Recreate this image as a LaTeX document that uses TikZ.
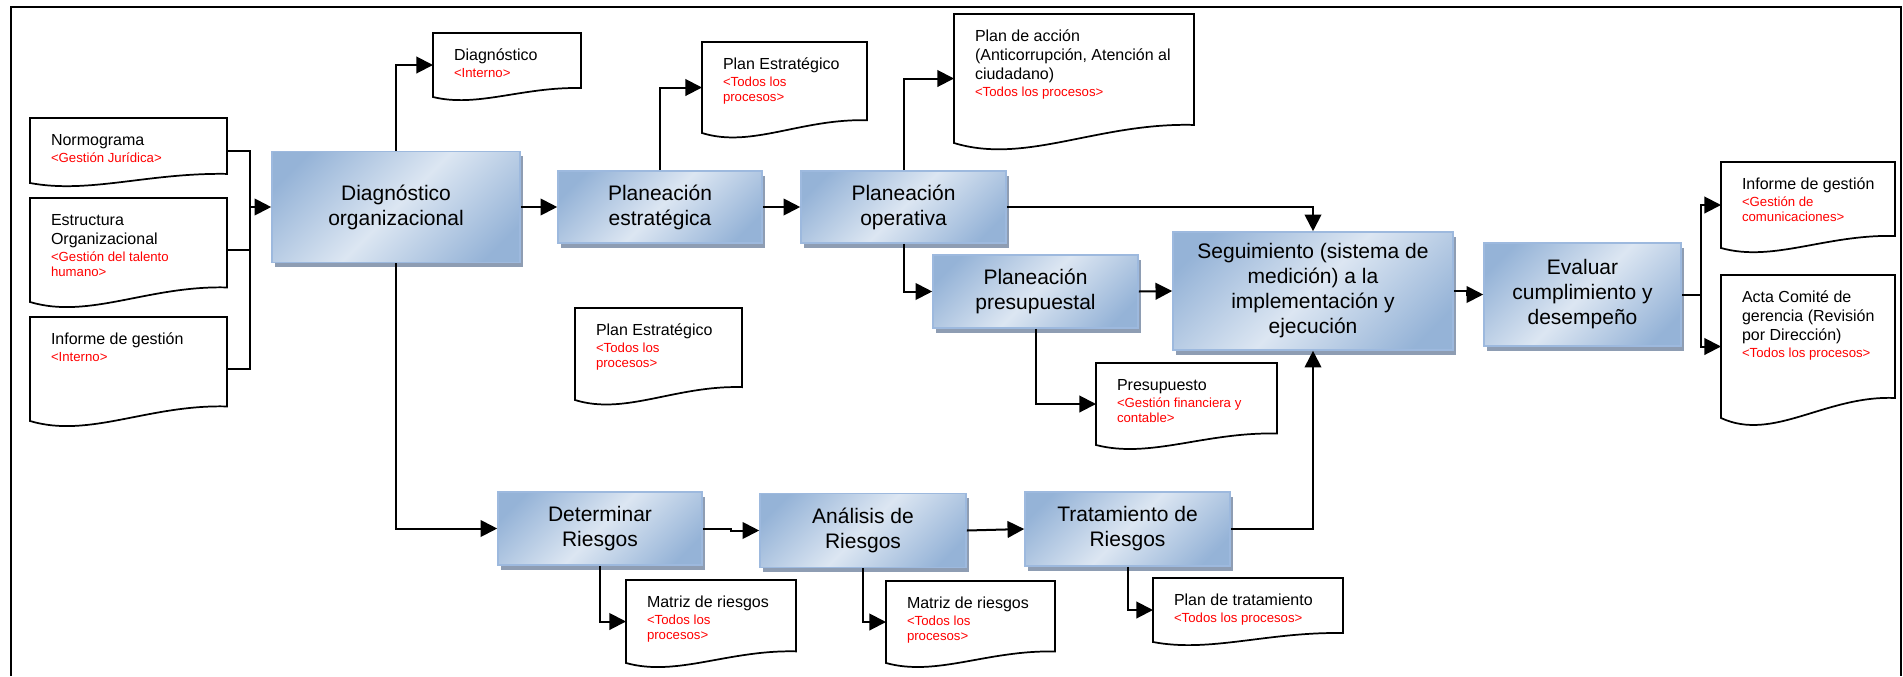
\documentclass[tikz,border=0pt]{standalone}
\usepackage{fontspec}
\setmainfont{Liberation Sans}
\usepackage{tikz}
\usetikzlibrary{arrows.meta,shadows}

\definecolor{boxlight}{HTML}{DCE6F2}
\definecolor{boxdark}{HTML}{95B3D7}
\definecolor{boxedge}{HTML}{9DB9DE}
\definecolor{boxshadow}{HTML}{8E9DB3}
\pgfdeclarehorizontalshading{procshade}{100bp}{color(0bp)=(boxdark); color(22bp)=(boxdark); color(50bp)=(boxlight); color(78bp)=(boxdark); color(100bp)=(boxdark)}

\newcommand{\rojo}[1]{{\color{red}\fontsize{9.9}{11.25}\selectfont #1}}

% documento con borde ondulado abajo
\newcommand{\docnode}[6]{%
  \node[docbox, minimum width=#4*0.75pt, minimum height=#5*0.75pt] (#1) at (#2,#3) {};
  \draw[docline] (#1.south west) -- (#1.north west) -- (#1.north east) -- ([yshift=0.14*#5*0.75pt]#1.south east)
    .. controls ([xshift=0.6*#4*0.75pt, yshift=0.16*#5*0.75pt]#1.south west) and ([xshift=0.3*#4*0.75pt, yshift=-0.17*#5*0.75pt]#1.south west) .. (#1.south west) -- cycle;
  \node[doctext] (#1-t) at ([shift={(20,13)}]#1.north west) {#6};
}

\begin{document}
\begin{tikzpicture}[x=0.75pt,y=-0.75pt,>={Triangle[length=12.5pt,width=12.5pt]},line width=1.5pt,
  proc/.style={rectangle, draw=boxedge, line width=1.2pt, shade, shading=procshade, shading angle=-45,
    drop shadow={shadow xshift=2.5pt, shadow yshift=-3.5pt, fill=boxshadow, opacity=1},
    align=center, inner sep=2pt, font=\fontsize{15.75}{18.75}\selectfont},
  docbox/.style={rectangle, anchor=north west, inner sep=0pt, outer sep=0pt},
  docline/.style={draw=black, fill=white, line width=1.3pt},
  doctext/.style={anchor=north west, inner sep=0pt, align=left, font=\fontsize{12}{14.25}\selectfont}]
   \useasboundingbox (0,0) rectangle (1903,676);
   \draw (11,676) -- (11,7) -- (1901,7) -- (1901,676);

   % procesos
   \node[proc, minimum width=186pt, minimum height=83.25pt] (diag) at (396,207) {Diagnóstico\\organizacional};
   \node[proc, minimum width=153pt, minimum height=54pt] (pest) at (660,207) {Planeación\\estratégica};
   \node[proc, minimum width=153.75pt, minimum height=54pt] (pope) at (903.5,207) {Planeación\\operativa};
   \node[proc, minimum width=153.75pt, minimum height=54.75pt] (ppres) at (1035.5,291.5) {Planeación\\presupuestal};
   \node[proc, minimum width=210pt, minimum height=88.5pt] (segui) at (1313,291) {Seguimiento (sistema de\\medición) a la\\implementación y\\ejecución};
   \node[proc, minimum width=147.75pt, minimum height=77.25pt] (eval) at (1582.5,294.5) {Evaluar\\cumplimiento y\\desempeño};
   \node[proc, minimum width=153pt, minimum height=54.75pt] (deter) at (600,528.5) {Determinar\\Riesgos};
   \node[proc, minimum width=154.5pt, minimum height=55.5pt] (anal) at (863,530.5) {Análisis de\\Riesgos};
   \node[proc, minimum width=153.75pt, minimum height=55.5pt] (trat) at (1127.5,529) {Tratamiento de\\Riesgos};

   % documentos
   \docnode{normo}{30}{118}{197}{65}{\strut Normograma\\[-1.5pt]\rojo{<Gestión Jurídica>}}
   \docnode{estru}{30}{198}{197}{104}{\strut Estructura\\Organizacional\\[-1.5pt]\rojo{<Gestión del talento}\\[-3pt]\rojo{humano>}}
   \docnode{infint}{30}{317}{197}{104}{\strut Informe de gestión\\[-1.5pt]\rojo{<Interno>}}
   \docnode{ddiag}{433}{33}{148}{64}{\strut Diagnóstico\\[-1.5pt]\rojo{<Interno>}}
   \docnode{pest1}{702}{42}{165}{91}{\strut Plan Estratégico\\[-1.5pt]\rojo{<Todos los}\\[-3pt]\rojo{procesos>}}
   \docnode{accion}{954}{14}{240}{129}{\strut Plan de acción\\(Anticorrupción, Atención al\\ciudadano)\\[-1.5pt]\rojo{<Todos los procesos>}}
   \docnode{pest2}{575}{308}{167}{92}{\strut Plan Estratégico\\[-1.5pt]\rojo{<Todos los}\\[-3pt]\rojo{procesos>}}
   \docnode{presu}{1096}{363}{181}{82}{\strut Presupuesto\\[-1.5pt]\rojo{<Gestión financiera y}\\[-3pt]\rojo{contable>}}
   \docnode{matriz1}{626}{580}{170}{83}{\strut Matriz de riesgos\\[-1.5pt]\rojo{<Todos los}\\[-3pt]\rojo{procesos>}}
   \docnode{matriz2}{886}{581}{169}{82}{\strut Matriz de riesgos\\[-1.5pt]\rojo{<Todos los}\\[-3pt]\rojo{procesos>}}
   \docnode{ptrat}{1153}{578}{190}{64}{\strut Plan de tratamiento\\[-1.5pt]\rojo{<Todos los procesos>}}
   \docnode{infges}{1721}{162}{174}{86}{\strut Informe de gestión\\[-1.5pt]\rojo{<Gestión de}\\[-3pt]\rojo{comunicaciones>}}
   \docnode{acta}{1721}{275}{174}{143}{\strut Acta Comité de\\gerencia (Revisión\\por Dirección)\\[-1.5pt]\rojo{<Todos los procesos>}}

   \coordinate (busL) at (250,207);
   \coordinate (busR) at (1701,294.5);

   \draw (normo.east) -| (busL);
   \draw (estru.east) -| (busL);
   \draw (infint.east) -| (busL);
   \draw [->] (busL) -- (diag.west);
   \draw [->] (diag.north) |- (ddiag.west);
   \draw [->] (diag.east) -- (pest.west);
   \draw [->] (diag.south) |- (deter.west);
   \draw [->] (pest.north) |- (pest1.west);
   \draw [->] (pest.east) -- (pope.west);
   \draw [->] (pope.north) |- (accion.west);
   \draw [->] (pope.east) -| (segui.north);
   \draw [->] (pope.south) |- (ppres.west);
   \draw [->] (ppres.south) |- (presu.west);
   \draw [->] (ppres.east) -- (segui.west);
   \draw [->] (segui.east) -- ++(13,0) |- (eval.west);
   \draw (eval.east) -- (busR);
   \draw [->] (busR) |- (infges.west);
   \draw [->] (busR) |- (acta.west);
   \draw [->] (deter.east) -- ++(28,0) |- (anal.west);
   \draw [->] (anal.east) -- (trat.west);
   \draw [->] (trat.east) -| (segui.south);
   \draw [->] (deter.south) |- (matriz1.west);
   \draw [->] (anal.south) |- (matriz2.west);
   \draw [->] (trat.south) |- (ptrat.west);
\end{tikzpicture}
\end{document}
